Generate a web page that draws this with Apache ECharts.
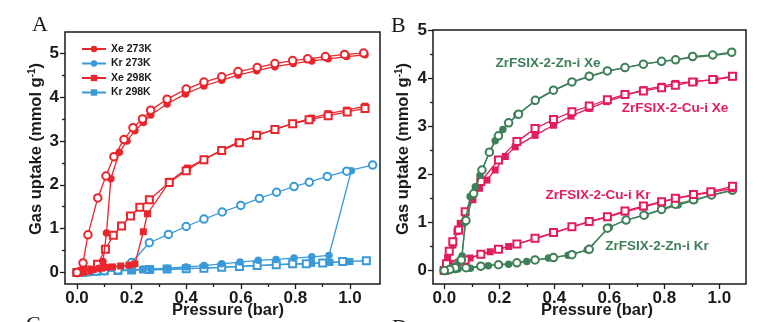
<!DOCTYPE html>
<html>
<head>
<meta charset="utf-8">
<script src="https://cdn.jsdelivr.net/npm/echarts@6/dist/echarts.min.js"></script>
<style>
  html, body { margin: 0; padding: 0; background: #fff; }
  #chart { width: 780px; height: 322px; }
</style>
</head>
<body>
<div id="chart"></div>
<script>
// ---------- Panel A: ZrFSIX-2 isotherms (pressure in bar, uptake in mmol/g) ----------
const xe273AdsP = [0.0, 0.02, 0.05, 0.08, 0.095, 0.108, 0.124, 0.155, 0.183, 0.212, 0.243, 0.27, 0.33, 0.397, 0.465, 0.53, 0.59, 0.658, 0.725, 0.792, 0.86, 0.92, 0.988, 1.055];
const xe273AdsQ = [0.0, 0.03, 0.06, 0.1, 0.25, 0.9, 2.14, 2.74, 3.0, 3.23, 3.42, 3.59, 3.84, 4.07, 4.25, 4.38, 4.5, 4.6, 4.69, 4.76, 4.82, 4.87, 4.92, 4.96];
const xe273DesP = [1.05, 0.98, 0.91, 0.845, 0.79, 0.725, 0.66, 0.59, 0.53, 0.465, 0.40, 0.33, 0.27, 0.24, 0.205, 0.172, 0.135, 0.106, 0.076, 0.04, 0.022, 0.0];
const xe273DesQ = [5.0, 4.97, 4.92, 4.87, 4.83, 4.76, 4.67, 4.58, 4.46, 4.34, 4.18, 3.95, 3.70, 3.5, 3.3, 3.03, 2.64, 2.2, 1.70, 0.86, 0.22, 0.0];

const xe298AdsP = [0.0, 0.03, 0.06, 0.09, 0.105, 0.13, 0.16, 0.19, 0.212, 0.243, 0.258, 0.34, 0.405, 0.465, 0.53, 0.59, 0.658, 0.725, 0.792, 0.86, 0.92, 0.988, 1.055];
const xe298AdsQ = [0.0, 0.04, 0.07, 0.1, 0.12, 0.13, 0.15, 0.17, 0.2, 0.93, 1.34, 2.08, 2.38, 2.58, 2.79, 2.97, 3.12, 3.27, 3.4, 3.52, 3.62, 3.7, 3.79];
const xe298DesP = [1.055, 0.99, 0.92, 0.85, 0.79, 0.725, 0.658, 0.595, 0.53, 0.465, 0.40, 0.338, 0.265, 0.23, 0.196, 0.163, 0.133, 0.104, 0.075, 0.04, 0.02, 0.0];
const xe298DesQ = [3.74, 3.66, 3.57, 3.48, 3.39, 3.26, 3.13, 2.96, 2.78, 2.57, 2.32, 2.05, 1.66, 1.49, 1.29, 1.06, 0.85, 0.53, 0.19, 0.06, 0.03, 0.0];

const kr273AdsP = [0.0, 0.05, 0.1, 0.15, 0.2, 0.24, 0.27, 0.33, 0.4, 0.465, 0.53, 0.597, 0.664, 0.729, 0.795, 0.86, 0.923, 1.005];
const kr273AdsQ = [0.0, 0.02, 0.04, 0.05, 0.06, 0.08, 0.08, 0.1, 0.13, 0.16, 0.2, 0.24, 0.28, 0.3, 0.33, 0.36, 0.39, 2.32];
const kr273DesP = [1.083, 0.988, 0.917, 0.851, 0.795, 0.731, 0.668, 0.6, 0.532, 0.465, 0.4, 0.335, 0.265, 0.2, 0.15, 0.1, 0.07, 0.04, 0.02, 0.0];
const kr273DesQ = [2.45, 2.31, 2.19, 2.06, 1.96, 1.83, 1.69, 1.53, 1.38, 1.22, 1.05, 0.87, 0.68, 0.23, 0.06, 0.04, 0.03, 0.02, 0.01, 0.0];

const kr298AdsP = [0.0, 0.05, 0.1, 0.15, 0.2, 0.24, 0.27, 0.33, 0.4, 0.465, 0.53, 0.595, 0.66, 0.73, 0.79, 0.86, 0.927, 1.0];
const kr298AdsQ = [0.0, 0.01, 0.03, 0.04, 0.05, 0.06, 0.06, 0.07, 0.09, 0.1, 0.12, 0.14, 0.16, 0.18, 0.19, 0.21, 0.23, 0.25];
const kr298DesP = [1.06, 0.973, 0.9, 0.84, 0.79, 0.73, 0.66, 0.595, 0.53, 0.465, 0.4, 0.33, 0.265, 0.2, 0.15, 0.1, 0.07, 0.04, 0.02, 0.0];
const kr298DesQ = [0.27, 0.25, 0.22, 0.2, 0.2, 0.18, 0.16, 0.14, 0.12, 0.1, 0.09, 0.08, 0.07, 0.06, 0.05, 0.04, 0.03, 0.02, 0.01, 0.0];

// ---------- Panel B: Zn / Cu analogues ----------
const znXeAdsP = [0.0, 0.02, 0.04, 0.055, 0.065, 0.075, 0.094, 0.113, 0.13, 0.165, 0.185, 0.213, 0.264, 0.33, 0.397, 0.464, 0.527, 0.593, 0.657, 0.724, 0.79, 0.841, 0.903, 0.976, 1.045];
const znXeAdsQ = [0.0, 0.04, 0.1, 0.2, 0.3, 1.0, 1.54, 1.74, 1.98, 2.47, 2.7, 2.93, 3.24, 3.52, 3.74, 3.91, 4.03, 4.14, 4.22, 4.29, 4.35, 4.38, 4.43, 4.47, 4.52];
const znXeDesP = [1.045, 0.976, 0.903, 0.841, 0.79, 0.724, 0.657, 0.593, 0.527, 0.464, 0.397, 0.331, 0.27, 0.234, 0.197, 0.164, 0.137, 0.107, 0.079, 0.062, 0.04, 0.02, 0.0];
const znXeDesQ = [4.54, 4.48, 4.45, 4.38, 4.35, 4.29, 4.22, 4.15, 4.04, 3.92, 3.75, 3.54, 3.25, 3.07, 2.8, 2.46, 2.09, 1.6, 1.04, 0.22, 0.06, 0.02, 0.0];

const cuXeAdsP = [0.0, 0.012, 0.031, 0.046, 0.058, 0.076, 0.104, 0.128, 0.155, 0.185, 0.222, 0.258, 0.33, 0.397, 0.461, 0.527, 0.59, 0.66, 0.724, 0.79, 0.84, 0.91, 0.984, 1.048];
const cuXeAdsQ = [0.0, 0.26, 0.53, 0.81, 0.98, 1.22, 1.47, 1.71, 1.88, 2.09, 2.37, 2.57, 2.81, 3.02, 3.21, 3.37, 3.51, 3.64, 3.76, 3.83, 3.89, 3.93, 3.97, 4.02];
const cuXeDesP = [1.048, 0.976, 0.903, 0.84, 0.79, 0.724, 0.657, 0.593, 0.527, 0.464, 0.397, 0.33, 0.264, 0.197, 0.133, 0.076, 0.052, 0.031, 0.018, 0.008, 0.0];
const cuXeDesQ = [4.04, 3.97, 3.92, 3.85, 3.8, 3.73, 3.66, 3.55, 3.42, 3.3, 3.14, 2.95, 2.68, 2.3, 1.85, 1.22, 0.84, 0.6, 0.4, 0.14, 0.0];

const cuKrAdsP = [0.0, 0.02, 0.052, 0.094, 0.131, 0.167, 0.197, 0.234, 0.264, 0.33, 0.397, 0.464, 0.527, 0.593, 0.657, 0.724, 0.79, 0.845, 0.91, 0.975, 1.045];
const cuKrAdsQ = [0.0, 0.08, 0.17, 0.26, 0.33, 0.39, 0.44, 0.5, 0.55, 0.66, 0.78, 0.9, 1.01, 1.11, 1.22, 1.32, 1.42, 1.5, 1.57, 1.63, 1.7];
const cuKrDesP = [1.048, 0.969, 0.906, 0.84, 0.79, 0.724, 0.657, 0.593, 0.527, 0.464, 0.397, 0.33, 0.264, 0.197, 0.133, 0.076, 0.04, 0.015, 0.0];
const cuKrDesQ = [1.75, 1.64, 1.58, 1.5, 1.43, 1.34, 1.24, 1.12, 1.02, 0.91, 0.79, 0.67, 0.55, 0.44, 0.34, 0.22, 0.13, 0.07, 0.0];

const znKrAdsP = [0.0, 0.02, 0.05, 0.095, 0.131, 0.16, 0.2, 0.234, 0.3, 0.379, 0.45, 0.52, 0.6, 0.66, 0.73, 0.79, 0.85, 0.91, 0.97, 1.045];
const znKrAdsQ = [0.0, 0.01, 0.03, 0.05, 0.08, 0.1, 0.12, 0.13, 0.19, 0.26, 0.32, 0.43, 0.9, 1.05, 1.15, 1.26, 1.36, 1.46, 1.56, 1.66];
const znKrDesP = [1.048, 0.972, 0.906, 0.84, 0.79, 0.726, 0.661, 0.593, 0.527, 0.464, 0.397, 0.33, 0.264, 0.197, 0.133, 0.079, 0.04, 0.004, 0.0];
const znKrDesQ = [1.67, 1.57, 1.47, 1.38, 1.27, 1.15, 1.05, 0.88, 0.44, 0.33, 0.27, 0.22, 0.16, 0.12, 0.09, 0.06, 0.04, 0.01, 0.0];

// ---------- Axis ticks ----------
const pressureTicks = [0.0, 0.2, 0.4, 0.6, 0.8, 1.0];
const pressureMinorTicks = [0.1, 0.3, 0.5, 0.7, 0.9];
const uptakeTicksA = [0, 1, 2, 3, 4, 5];
const uptakeMinorTicksA = [0.5, 1.5, 2.5, 3.5, 4.5];
const uptakeTicksB = [0, 1, 2, 3, 4, 5];
const uptakeMinorTicksB = [0.5, 1.5, 2.5, 3.5, 4.5];

const legendNames = ['Xe 273K', 'Kr 273K', 'Xe 298K', 'Kr 298K'];
const curveLabelsB = ['ZrFSIX-2-Zn-i Xe', 'ZrFSIX-2-Cu-i Xe', 'ZrFSIX-2-Cu-i Kr', 'ZrFSIX-2-Zn-i Kr'];

// ---------- Styling ----------
const RED = '#e8262c';
const BLUE = '#3a9ad7';
const GREEN = '#3d7f57';
const CRIMSON = '#e21d5b';
const INK = '#1a1a1a';
const FONT = '"Liberation Sans", Arial, sans-serif';

const pairs = (p, q) => p.map((x, i) => [x, q[i]]);

function isotherm(name, p, q, color, shape, filled, axisIdx, z) {
  const sym = filled ? shape : (shape === 'circle' ? 'emptyCircle' : 'emptyRect');
  return {
    name: name,
    type: 'line',
    xAxisIndex: axisIdx,
    yAxisIndex: axisIdx,
    data: pairs(p, q),
    symbol: sym,
    symbolSize: shape === 'circle' ? 7.5 : 7,
    showAllSymbol: true,
    lineStyle: { color: color, width: 1.3 },
    itemStyle: { color: color, borderColor: color, borderWidth: filled ? 0 : 1.2 },
    emphasis: { disabled: true },
    animation: false,
    z: z
  };
}

function xAxisOf(grid, min, max, ticks, tickLen, labelled) {
  return {
    type: 'value', gridIndex: grid, position: 'bottom', min: min, max: max,
    axisLine: { show: false, onZero: false }, splitLine: { show: false },
    axisTick: { show: true, customValues: ticks, length: tickLen, lineStyle: { color: INK, width: 1.3 } },
    axisLabel: labelled ? {
      customValues: ticks, margin: 6,
      formatter: v => v.toFixed(1),
      color: INK, fontFamily: FONT, fontWeight: 'bold', fontSize: 17
    } : { show: false }
  };
}
function yAxisOf(grid, min, max, ticks, tickLen, labelled) {
  return {
    type: 'value', gridIndex: grid, position: 'left', min: min, max: max,
    axisLine: { show: false, onZero: false }, splitLine: { show: false },
    axisTick: { show: true, customValues: ticks, length: tickLen, lineStyle: { color: INK, width: 1.3 } },
    axisLabel: labelled ? {
      customValues: ticks, margin: 6,
      formatter: v => String(v),
      color: INK, fontFamily: FONT, fontWeight: 'bold', fontSize: 17
    } : { show: false }
  };
}

const yTitleRich = {
  sup: { fontSize: 10, fontWeight: 'bold', fontFamily: FONT, fill: INK, verticalAlign: 'top', padding: [0, 0, 8, 0] }
};
function yTitle(x, y) {
  return {
    type: 'text', x: x, y: y, rotation: Math.PI / 2,
    style: {
      text: 'Gas uptake (mmol g{sup|-1})', rich: yTitleRich,
      fill: INK, font: 'bold 16.5px ' + FONT, align: 'center', verticalAlign: 'middle'
    }
  };
}
function xTitle(x, y) {
  return {
    type: 'text', x: x, y: y,
    style: { text: 'Pressure (bar)', fill: INK, font: 'bold 16.5px ' + FONT, align: 'center', verticalAlign: 'top' }
  };
}
function panelLetter(t, x, y) {
  return {
    type: 'text', x: x, y: y,
    style: { text: t, fill: INK, font: '22px "Liberation Serif", "Times New Roman", serif', align: 'left', verticalAlign: 'top' }
  };
}
function curveLabel(t, x, y, color) {
  return {
    type: 'text', x: x, y: y,
    style: { text: t, fill: color, font: 'bold 13.5px ' + FONT, align: 'center', verticalAlign: 'middle' }
  };
}

const chart = echarts.init(document.getElementById('chart'), null, { renderer: 'canvas' });

chart.setOption({
  backgroundColor: '#ffffff',
  animation: false,
  grid: [
    { left: 65, top: 32, width: 315, height: 252, show: true, borderColor: INK, borderWidth: 1.5, backgroundColor: 'transparent', containLabel: false },
    { left: 433, top: 30, width: 313, height: 254, show: true, borderColor: INK, borderWidth: 1.5, backgroundColor: 'transparent', containLabel: false }
  ],
  xAxis: [
    xAxisOf(0, -0.044, 1.11, pressureTicks, 5, true),
    xAxisOf(0, -0.044, 1.11, pressureMinorTicks, 3, false),
    xAxisOf(1, -0.041, 1.097, pressureTicks, 5, true),
    xAxisOf(1, -0.041, 1.097, pressureMinorTicks, 3, false)
  ],
  yAxis: [
    yAxisOf(0, -0.26, 5.48, uptakeTicksA, 5, true),
    yAxisOf(0, -0.26, 5.48, uptakeMinorTicksA, 3, false),
    yAxisOf(1, -0.28, 5.0, uptakeTicksB, 5, true),
    yAxisOf(1, -0.28, 5.0, uptakeMinorTicksB, 3, false)
  ],
  legend: {
    data: legendNames,
    orient: 'vertical',
    left: 76, top: 38,
    itemWidth: 24, itemHeight: 8, itemGap: 2.5,
    selectedMode: false,
    textStyle: { color: INK, fontFamily: FONT, fontWeight: 'bold', fontSize: 10.5, lineHeight: 12 }
  },
  series: [
    // panel A
    isotherm('Kr 298K', kr298AdsP, kr298AdsQ, BLUE, 'rect', true, 0, 2),
    isotherm('Kr 298K des', kr298DesP, kr298DesQ, BLUE, 'rect', false, 0, 2),
    isotherm('Kr 273K', kr273AdsP, kr273AdsQ, BLUE, 'circle', true, 0, 3),
    isotherm('Kr 273K des', kr273DesP, kr273DesQ, BLUE, 'circle', false, 0, 3),
    isotherm('Xe 298K', xe298AdsP, xe298AdsQ, RED, 'rect', true, 0, 4),
    isotherm('Xe 298K des', xe298DesP, xe298DesQ, RED, 'rect', false, 0, 4),
    isotherm('Xe 273K', xe273AdsP, xe273AdsQ, RED, 'circle', true, 0, 5),
    isotherm('Xe 273K des', xe273DesP, xe273DesQ, RED, 'circle', false, 0, 5),
    // panel B
    isotherm('Zn-i Kr ads', znKrAdsP, znKrAdsQ, GREEN, 'circle', true, 2, 2),
    isotherm('Zn-i Kr des', znKrDesP, znKrDesQ, GREEN, 'circle', false, 2, 2),
    isotherm('Cu-i Kr ads', cuKrAdsP, cuKrAdsQ, CRIMSON, 'rect', true, 2, 3),
    isotherm('Cu-i Kr des', cuKrDesP, cuKrDesQ, CRIMSON, 'rect', false, 2, 3),
    isotherm('Cu-i Xe ads', cuXeAdsP, cuXeAdsQ, CRIMSON, 'rect', true, 2, 4),
    isotherm('Cu-i Xe des', cuXeDesP, cuXeDesQ, CRIMSON, 'rect', false, 2, 4),
    isotherm('Zn-i Xe ads', znXeAdsP, znXeAdsQ, GREEN, 'circle', true, 2, 5),
    isotherm('Zn-i Xe des', znXeDesP, znXeDesQ, GREEN, 'circle', false, 2, 5)
  ],
  graphic: [
    panelLetter('A', 32, 14),
    panelLetter('B', 391, 15),
    panelLetter('C', 26, 314),
    panelLetter('D', 392, 317),
    yTitle(36, 149),
    yTitle(403, 149),
    xTitle(228, 302),
    xTitle(597, 302),
    curveLabel(curveLabelsB[0], 548, 63, GREEN),
    curveLabel(curveLabelsB[1], 675, 108, CRIMSON),
    curveLabel(curveLabelsB[2], 598, 195, CRIMSON),
    curveLabel(curveLabelsB[3], 657, 246, GREEN)
  ]
});
</script>
</body>
</html>
